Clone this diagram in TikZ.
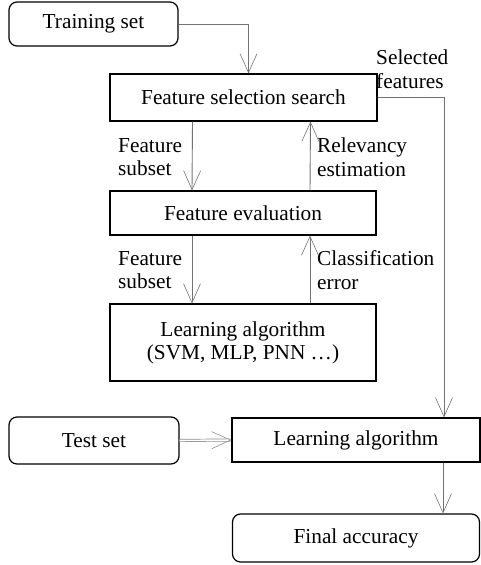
\documentclass[tikz,border=0pt]{standalone}
\usepackage{fontspec}
\setmainfont{Liberation Serif}
\usetikzlibrary{arrows.meta}
\begin{document}
\begin{tikzpicture}[x=1pt,y=-1pt,
  every node/.style={font=\fontsize{21.3}{23}\selectfont},
  box/.style={draw=black,line width=1.2pt,inner sep=0pt,align=center},
  rbox/.style={box,rounded corners=8pt},
  conn/.style={draw=black!55,line width=0.9pt,-{Straight Barb[length=19pt,width=17pt,line width=0.6pt]}},
  lbl/.style={anchor=west,align=left,inner sep=0pt,font=\fontsize{21.3}{23.5}\selectfont}]
\useasboundingbox (0,0) rectangle (481,565);
\node[rbox,minimum width=169pt,minimum height=44pt] (ts) at (93.5,24) {Training set};
\node[box,minimum width=267pt,minimum height=47pt] (fss) at (243.5,97.5) {Feature selection search};
\node[box,minimum width=266pt,minimum height=44pt] (fe) at (243,213) {Feature evaluation};
\node[box,minimum width=266pt,minimum height=77pt] (la) at (243,342.5) {Learning algorithm\\(SVM, MLP, PNN …)};
\node[rbox,minimum width=170pt,minimum height=47pt] (test) at (94,440.5) {Test set};
\node[box,minimum width=248pt,minimum height=44pt] (la2) at (356,440) {Learning algorithm};
\node[rbox,minimum width=247pt,minimum height=48pt] (fa) at (356,538) {Final accuracy};

\node[lbl] (sel) at (376,69) {Selected\\features};
\node[lbl] (fs1) at (118,157) {Feature\\subset};
\node[lbl] (re) at (317,157) {Relevancy\\estimation};
\node[lbl] (fs2) at (118,270) {Feature\\subset};
\node[lbl] (ce) at (317,270) {Classification\\error};

\draw[conn] (ts.east) -| ([xshift=5pt]fss.north);
\draw[conn] ([xshift=-51pt]fss.south) -- ([xshift=-51pt]fe.north);
\draw[conn] ([xshift=67pt]fe.north) -- ([xshift=67pt]fss.south);
\draw[conn] ([xshift=-51pt]fe.south) -- ([xshift=-51pt]la.north);
\draw[conn] ([xshift=67pt]la.north) -- ([xshift=67pt]fe.south);
\draw[conn] (fss.east) -| ([xshift=88pt]la2.north);
\draw[conn] ([xshift=87pt]la2.south) -- ([xshift=87pt]fa.north);
\draw[draw=black!45,double=white,double distance=1.6pt,line width=0.7pt,-{Straight Barb[length=19pt,width=17pt,line width=0.6pt]}] (test.east) -- (la2.west);
\end{tikzpicture}
\end{document}
